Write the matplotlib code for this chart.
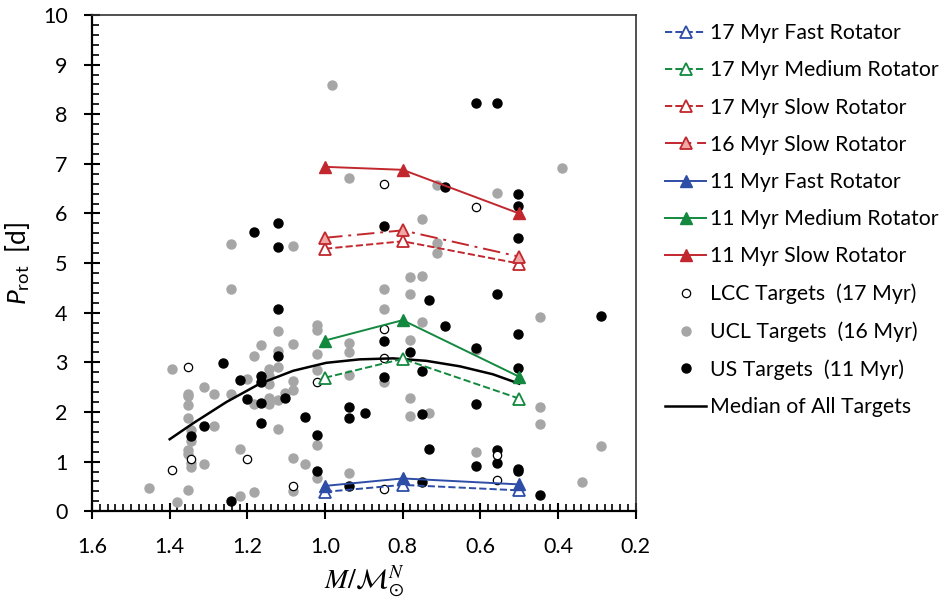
import matplotlib
matplotlib.use('Agg')
import matplotlib.pyplot as plt
from matplotlib.ticker import MultipleLocator

plt.rcParams['font.family'] = ['Lato', 'DejaVu Sans']
plt.rcParams['mathtext.fontset'] = 'custom'
plt.rcParams['mathtext.rm'] = 'Lato'
plt.rcParams['mathtext.it'] = 'Lato:italic'

# model tracks (mass, period)
model_mass = [1.0, 0.8, 0.5]
fast_17 = [0.39, 0.53, 0.42]
med_17 = [2.69, 3.07, 2.27]
slow_17 = [5.29, 5.44, 4.99]
slow_16 = [5.51, 5.66, 5.13]
fast_11 = [0.51, 0.66, 0.54]
med_11 = [3.44, 3.85, 2.71]
slow_11 = [6.94, 6.88, 6.00]

# median of all targets
median_mass = [1.40, 1.34, 1.254, 1.168, 1.082, 0.997, 0.911, 0.825, 0.739, 0.653, 0.568, 0.50]
median_prot = [1.45, 1.77, 2.20, 2.57, 2.83, 2.99, 3.06, 3.08, 3.03, 2.92, 2.76, 2.57]

# LCC targets (17 Myr)
lcc_mass = [1.353, 1.020, 1.200, 1.346, 1.394, 1.083, 0.849, 0.612, 0.849, 0.849, 0.849,
            0.558, 0.558]
lcc_prot = [2.90, 2.61, 1.05, 1.05, 0.84, 0.50, 6.60, 6.14, 3.67, 3.09, 0.44,
            1.13, 0.63]

# UCL targets (16 Myr)
ucl_mass = [0.982, 0.938, 0.711, 0.558, 0.391, 0.750, 0.711, 0.711, 1.241, 1.083,
            1.241, 0.782, 0.750, 0.849, 0.782, 0.849, 0.750, 1.020, 1.020, 1.121,
            1.166, 1.083, 1.121, 1.184, 1.020, 0.938, 0.938, 0.782, 0.612, 1.394,
            1.121, 1.144, 1.020, 1.200, 1.144, 1.144, 1.083, 1.083, 1.102, 0.938,
            0.849, 1.312, 1.287, 1.353, 1.353, 1.241, 1.184, 1.144, 1.144, 1.121,
            1.353, 1.353, 1.287, 1.121, 1.346, 1.346, 1.020, 1.220, 1.353, 1.353,
            1.346, 1.346, 1.312, 1.083, 1.052, 1.020, 0.938, 0.782, 0.782, 0.731,
            0.612, 0.447, 0.447, 0.447, 0.2885, 0.339, 1.454, 1.353, 1.083, 1.220,
            1.184, 1.380]
ucl_prot = [8.58, 6.71, 6.57, 6.42, 6.91, 5.89, 5.41, 5.20, 5.38, 5.35,
            4.48, 4.71, 4.74, 4.48, 4.37, 4.07, 3.81, 3.76, 3.66, 3.64,
            3.35, 3.37, 3.23, 3.13, 3.17, 3.39, 3.21, 3.46, 3.25, 2.87,
            2.90, 2.86, 2.84, 2.66, 2.72, 2.56, 2.63, 2.45, 2.39, 2.74,
            2.61, 2.51, 2.37, 2.37, 2.32, 2.37, 2.17, 2.29, 2.16, 2.24,
            2.14, 1.88, 1.71, 1.65, 1.63, 1.41, 1.34, 1.26, 1.23, 1.15,
            0.98, 0.89, 0.96, 1.07, 0.95, 0.66, 0.76, 2.29, 1.92, 1.98,
            1.20, 3.91, 2.10, 1.75, 1.31, 0.59, 0.47, 0.42, 0.40, 0.31,
            0.38, 0.18]

# US targets (11 Myr)
us_mass = [1.184, 1.121, 1.121, 1.121, 1.121, 1.264, 1.220, 1.166, 1.166, 1.200,
           1.166, 1.102, 1.312, 1.166, 1.052, 1.346, 1.020, 1.020, 1.241, 0.558,
           0.612, 0.691, 0.849, 0.731, 0.558, 0.691, 0.849, 0.782, 0.612, 0.750,
           0.849, 0.750, 0.938, 0.938, 0.896, 0.612, 0.731, 0.612, 0.558, 0.558,
           0.938, 0.750, 0.502, 0.502, 0.502, 0.502, 0.502, 0.502, 0.502, 0.447,
           0.2885]
us_prot = [5.63, 5.81, 5.33, 4.07, 3.13, 2.98, 2.64, 2.72, 2.61, 2.27,
           2.18, 2.29, 1.71, 1.78, 1.89, 1.52, 1.53, 0.81, 0.20, 8.23,
           8.23, 6.53, 5.75, 4.25, 4.37, 3.73, 3.44, 3.20, 3.29, 2.83,
           2.71, 1.95, 2.10, 1.88, 1.98, 2.16, 1.26, 0.91, 1.24, 0.98,
           0.50, 0.58, 6.39, 6.15, 5.50, 3.58, 2.88, 0.86, 0.81, 0.32,
           3.93]

red = '#C1272D'
green = '#13893F'
blue = '#2E4DA7'
gray = '#A6A6A6'

fig = plt.figure(figsize=(9.39, 6.0), dpi=100)
ax = fig.add_axes([0.098, 0.148, 0.579, 0.827])

dot = 6.5
ax.plot(ucl_mass, ucl_prot, 'o', ls='none', ms=dot, mfc=gray, mec=gray, zorder=2)
ax.plot(us_mass, us_prot, 'o', ls='none', ms=dot, mfc='black', mec='black', zorder=2)
ax.plot(lcc_mass, lcc_prot, 'o', ls='none', ms=dot - 0.5, mfc='white', mec='black',
        mew=0.9, zorder=2)

tri = 8.5
lw = 1.4
h_f17, = ax.plot(model_mass, fast_17, ls='--', color=blue, lw=lw, marker='^', ms=tri,
                 mfc='white', mec=blue, mew=1.3, zorder=4)
h_m17, = ax.plot(model_mass, med_17, ls='--', color=green, lw=lw, marker='^', ms=tri,
                 mfc='white', mec=green, mew=1.3, zorder=4)
h_s17, = ax.plot(model_mass, slow_17, ls='--', color=red, lw=lw, marker='^', ms=tri,
                 mfc='white', mec=red, mew=1.3, zorder=4)
h_s16, = ax.plot(model_mass, slow_16, ls=(0, (9, 3, 1.5, 3)), color=red, lw=lw,
                 marker='^', ms=tri, mfc='#F2A7A7', mec=red, mew=1.3, zorder=4)
h_f11, = ax.plot(model_mass, fast_11, ls='-', color=blue, lw=lw, marker='^', ms=tri,
                 mfc=blue, mec=blue, zorder=4)
h_m11, = ax.plot(model_mass, med_11, ls='-', color=green, lw=lw, marker='^', ms=tri,
                 mfc=green, mec=green, zorder=4)
h_s11, = ax.plot(model_mass, slow_11, ls='-', color=red, lw=lw, marker='^', ms=tri,
                 mfc=red, mec=red, zorder=4)
h_med, = ax.plot(median_mass, median_prot, '-', color='black', lw=1.8, zorder=3)

h_lcc, = ax.plot([], [], 'o', ls='none', ms=dot - 0.5, mfc='white', mec='black', mew=0.9)
h_ucl, = ax.plot([], [], 'o', ls='none', ms=dot, mfc=gray, mec=gray)
h_us, = ax.plot([], [], 'o', ls='none', ms=dot, mfc='black', mec='black')

ax.set_xlim(1.6, 0.2)
ax.set_ylim(0, 10)
ax.xaxis.set_major_locator(MultipleLocator(0.2))
ax.xaxis.set_minor_locator(MultipleLocator(0.02))
ax.yaxis.set_major_locator(MultipleLocator(1))
ax.yaxis.set_minor_locator(MultipleLocator(0.2))
ax.xaxis.set_major_formatter(plt.FuncFormatter(lambda v, p: '%.1f' % v))
ax.tick_params(which='major', direction='inout', length=11, width=1.5, labelsize=15.5,
               top=False, right=False)
ax.tick_params(which='minor', direction='in', length=5, width=1.2, top=False, right=False)
ax.tick_params(axis='x', which='major', pad=13)
ax.tick_params(axis='y', which='major', pad=12)
for side in ['left', 'bottom']:
    ax.spines[side].set_linewidth(1.6)
for side in ['top', 'right']:
    ax.spines[side].set_linewidth(1.2)
    ax.spines[side].set_color('#333333')

ax.set_xlabel(r'$M/\mathcal{M}_{\odot}^{N}$', fontsize=20, labelpad=6,
              math_fontfamily='stix')
ax.set_ylabel(r'$P_{\mathrm{rot}}$  [d]', fontsize=19, labelpad=8)

handles = [h_f17, h_m17, h_s17, h_s16, h_f11, h_m11, h_s11, h_lcc, h_ucl, h_us, h_med]
labels = ['17 Myr Fast Rotator', '17 Myr Medium Rotator', '17 Myr Slow Rotator',
          '16 Myr Slow Rotator', '11 Myr Fast Rotator', '11 Myr Medium Rotator',
          '11 Myr Slow Rotator', 'LCC Targets  (17 Myr)', 'UCL Targets  (16 Myr)',
          'US Targets  (11 Myr)', 'Median of All Targets']
ax.legend(handles, labels, loc='upper left', bbox_to_anchor=(1.035, 1.005), frameon=False,
          fontsize=15.3, labelspacing=0.81, handlelength=1.9, handletextpad=0.2,
          borderaxespad=0.1)

plt.savefig('out.png', dpi=100)
